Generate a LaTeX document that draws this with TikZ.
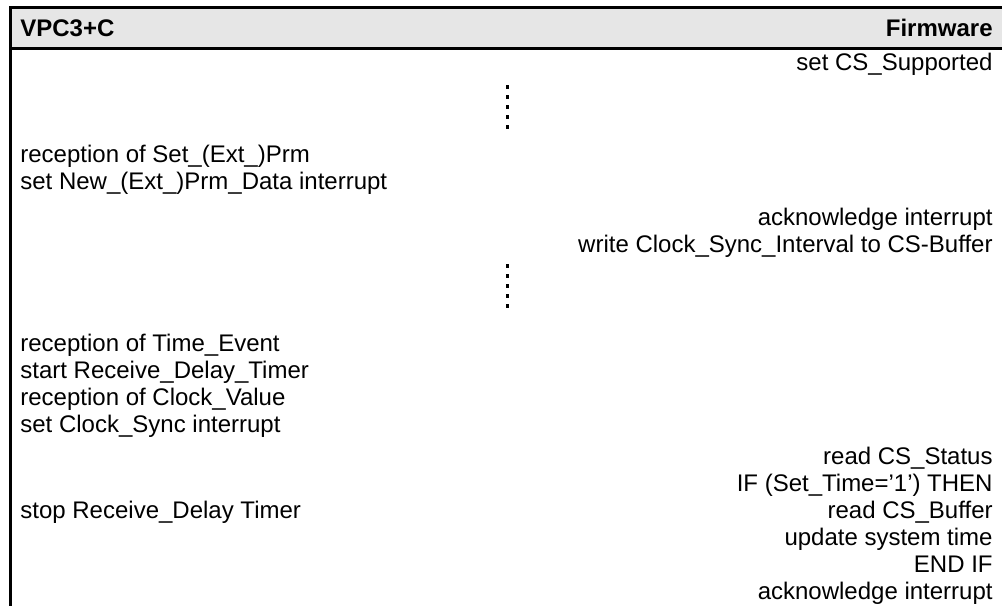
\documentclass[tikz,border=0pt]{standalone}
\usepackage{fontspec}
\setmainfont{Liberation Sans}
\definecolor{hdrgray}{RGB}{230,230,230}
\tikzset{
  txt/.style={inner sep=0pt, font=\fontsize{12}{13.5}\selectfont},
  lft/.style={txt, anchor=base west},
  rgt/.style={txt, anchor=base east},
  hdr/.style={txt, font=\fontsize{12}{13.5}\selectfont\bfseries},
  waitline/.style={line width=1.5pt, dash pattern=on 2pt off 3pt}
}
\begin{document}
\begin{tikzpicture}[x=0.5pt, y=-0.5pt]
            \useasboundingbox (0,0) rectangle (1002,606);

            % Kopfzeile
            \fill[hdrgray] (10.5,7.5) rectangle (1002,48.5);
            \draw[line width=1.25pt] (1002,7.5) -- (10.5,7.5) -- (10.5,606);
            \draw[line width=1.5pt] (10.5,48.5) -- (1002,48.5);
            \node[hdr, anchor=base west] (vpc) at (20,36.5) {VPC3+C};
            \node[hdr, anchor=base east] (fw) at (993,36.5) {Firmware};

            % Initialisierung
            \node[rgt] (cssup) at (993,70.5) {set CS\_Supported};
            \draw[waitline] (507,85) -- (507,131);

            % Parametrierung
            \node[lft] (rxprm) at (20,162.5) {reception of Set\_(Ext\_)Prm};
            \node[lft] (prmint) at (20,189.5) {set New\_(Ext\_)Prm\_Data interrupt};
            \node[rgt] (ack1) at (993,225.5) {acknowledge interrupt};
            \node[rgt] (wrint) at (993,252.5) {write Clock\_Sync\_Interval to CS-Buffer};
            \draw[waitline] (507,264) -- (507,310);

            % Uhrzeit-Telegramme
            \node[lft] (rxtime) at (20,351.5) {reception of Time\_Event};
            \node[lft] (rdtstart) at (20,378.5) {start Receive\_Delay\_Timer};
            \node[lft] (rxclk) at (20,405.5) {reception of Clock\_Value};
            \node[lft] (csint) at (20,432.5) {set Clock\_Sync interrupt};

            % Auswertung in der Firmware
            \node[rgt] (rdstat) at (993,464.5) {read CS\_Status};
            \node[rgt] (ifset) at (993,491.5) {IF (Set\_Time=’1’) THEN};
            \node[lft] (rdtstop) at (20,518.5) {stop Receive\_Delay Timer};
            \node[rgt] (rdbuf) at (993,518.5) {read CS\_Buffer};
            \node[rgt] (upd) at (993,545.5) {update system time};
            \node[rgt] (endif) at (993,572.5) {END IF};
            \node[rgt] (ack2) at (993,599.5) {acknowledge interrupt};

\end{tikzpicture}
\end{document}
